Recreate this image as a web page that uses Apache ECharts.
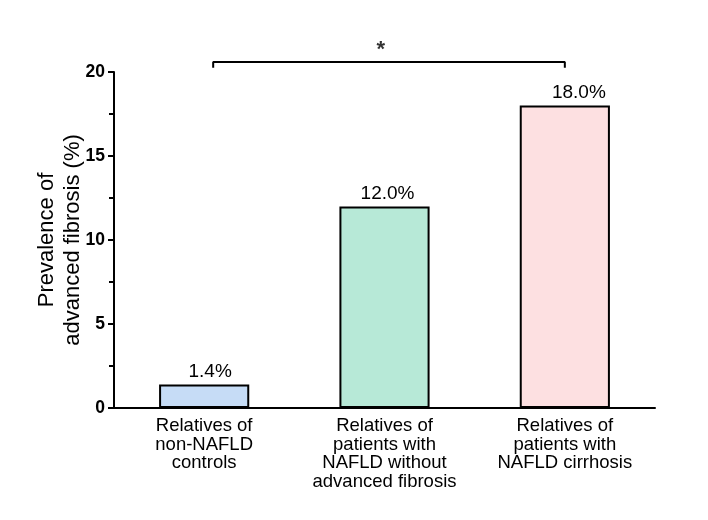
<!DOCTYPE html>
<html><head><meta charset="utf-8">
<script src="https://cdn.jsdelivr.net/npm/echarts@6/dist/echarts.min.js"></script>
<style>html,body{margin:0;padding:0;background:#fff}#c{width:708px;height:520px}</style>
</head><body><div id="c"></div>
<script>
const categories = ['Relatives of\nnon-NAFLD\ncontrols', 'Relatives of\npatients with\nNAFLD without\nadvanced fibrosis', 'Relatives of\npatients with\nNAFLD cirrhosis'];
const values = [1.4, 12.0, 18.0];
const barColors = ['#c6dcf6', '#b7e9d7', '#fde0e1'];
const yTicks = [0, 5, 10, 15, 20];
const bracket = [[0.05, 20.25], [0.05, 20.6], [2.0, 20.6], [2.0, 20.25]];
const star = [[0.98, 21.3]];
const labelShift = [6, 3, 14];

const chart = echarts.init(document.getElementById('c'));
const font = 'Liberation Sans, Arial, Helvetica, sans-serif';
chart.setOption({
  animation: false,
  backgroundColor: '#fff',
  grid: { left: 114, right: 53, top: 72, bottom: 112, containLabel: false },
  xAxis: [{
    type: 'category', data: categories,
    axisLine: { lineStyle: { color: '#000', width: 2 } },
    axisTick: { show: false },
    axisLabel: { color: '#000', fontFamily: font, fontSize: 18.5, lineHeight: 18.5, margin: 9, interval: 0 }
  }, {
    type: 'value', min: -0.5, max: 2.5, show: false
  }],
  yAxis: {
    type: 'value', min: 0, max: 20, interval: 5,
    name: 'Prevalence of\nadvanced fibrosis (%)', nameLocation: 'middle', nameGap: 28, nameMoveOverlap: false,
    nameTextStyle: { color: '#000', fontFamily: font, fontSize: 22, lineHeight: 26 },
    axisLine: { show: true, onZero: false, lineStyle: { color: '#000', width: 2 } },
    axisTick: { show: true, length: 6, lineStyle: { color: '#000', width: 2 } },
    minorTick: { show: true, splitNumber: 2, length: 5, lineStyle: { color: '#000', width: 2 } },
    splitLine: { show: false },
    axisLabel: { color: '#000', fontFamily: font, fontSize: 17.5, fontWeight: 'bold', margin: 9,
      formatter: v => yTicks.includes(v) ? String(v) : '' }
  },
  series: [{
    type: 'bar', barWidth: '50%', xAxisIndex: 0,
    data: values.map((v, i) => ({ value: v, itemStyle: { color: barColors[i] }, label: { offset: [labelShift[i], 0] } })),
    itemStyle: { borderColor: '#000', borderWidth: 2 },
    label: { show: true, position: 'top', distance: 3, color: '#000', fontFamily: font, fontSize: 19,
      formatter: p => p.value.toFixed(1) + '%' }
  }, {
    type: 'line', xAxisIndex: 1, data: bracket, clip: false, symbol: 'none',
    lineStyle: { color: '#000', width: 2 }
  }, {
    type: 'scatter', xAxisIndex: 1, data: star, clip: false, symbolSize: 0,
    label: { show: true, position: 'inside', formatter: '*', color: '#000', fontFamily: font, fontSize: 22, fontWeight: 'bold' }
  }]
});
</script></body></html>
